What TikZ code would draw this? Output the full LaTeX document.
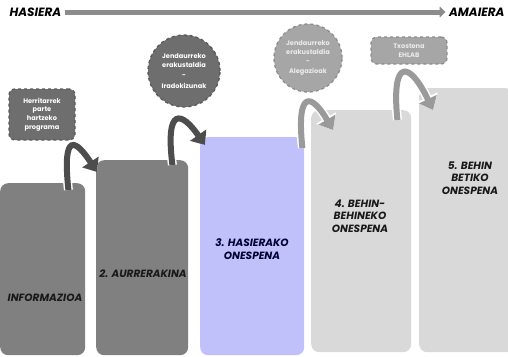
\documentclass[tikz,border=0pt]{standalone}
\usepackage{fontspec}
\setmainfont{Poppins}
\usepackage{xcolor}
\usetikzlibrary{arrows.meta,calc,positioning,backgrounds}

\definecolor{stagedark}{HTML}{808080}
\definecolor{stageblue}{HTML}{C0C0FA}
\definecolor{stagelight}{HTML}{D9D9D9}
\definecolor{notedark}{HTML}{6E6E6E}
\definecolor{notelight}{HTML}{A6A6A6}
\definecolor{curldark}{HTML}{4D4D4D}
\definecolor{curllight}{HTML}{9A9A9A}

\begin{document}
\begin{tikzpicture}[%
    x=1pt, y=-1pt,              % one unit is one pixel of the sketch
    font=\bfseries\itshape,
    ]
% -------------------------------------------------
% Styles for stages, notes and the bent arrows
\tikzset{
stage/.style={draw=none, rounded corners=8pt, anchor=north west, inner sep=0pt},
stagetext/.style={align=center, font=\fontsize{10.5}{12.5}\selectfont\bfseries\itshape, text=black!90},
note/.style={dashed, line width=1.3pt, align=center, inner sep=1pt,
    font=\fontsize{6.6}{8.8}\selectfont\bfseries, text=white},
notebox/.style={note, rounded corners=6pt},
notecircle/.style={note, circle},
curl/.style={line width=6pt, -{Triangle[length=12pt,width=19pt]},
    preaction={draw=white, line width=9pt, -{Triangle[length=14pt,width=23pt]}}},
timeline/.style={line width=5pt, draw=black!45, -{Triangle[length=6pt,width=11pt]}},
ends/.style={font=\fontsize{12}{13}\selectfont\bfseries\itshape},
}
\useasboundingbox (0,0) rectangle (508,356);

% -------------------------------------------------
% Time line on top
\node [ends, anchor=west] (hasiera) at (6,12) {HASIERA};
\node [ends, anchor=east] (amaiera) at (508,12) {AMAIERA};
\draw [timeline] (hasiera) -- (amaiera);

% -------------------------------------------------
% The five stages
\node [stage, fill=stagedark, minimum width=85pt, minimum height=172pt] (informazioa) at (0,183) {};
\node [stage, fill=stagedark, minimum width=92pt, minimum height=195pt] (aurrerakina) at (96,160) {};
\node [stage, fill=stageblue, minimum width=104pt, minimum height=218pt] (hasierako) at (200,137) {};
\node [stage, fill=stagelight, minimum width=100pt, minimum height=242pt] (behinbehineko) at (311,110) {};
\node [stage, fill=stagelight, minimum width=95pt, minimum height=264pt] (behinbetiko) at (419,88) {};

\node [stagetext] (t1) at (45,298) {INFORMAZIOA};
\node [stagetext] (t2) at (143,274) {2. AURRERAKINA};
\node [stagetext, text=blue!20!black] (t3) at (252,249) {3. HASIERAKO\\ONESPENA};
\node [stagetext] (t4) at (360,216) {4. BEHIN-\\BEHINEKO\\ONESPENA};
\node [stagetext] (t5) at (470,178) {5. BEHIN\\BETIKO\\ONESPENA};

% -------------------------------------------------
% Notes above the stages
\node [notebox, fill=notedark, draw=black!65, minimum width=66pt, minimum height=51pt] (programa) at (42,114.5)
    {Herritarrek\\parte\\hartzeko\\programa};
\node [notecircle, fill=notedark, draw=black!65, minimum size=72pt] (iradokizunak) at (184,71)
    {Jendaurreko\\erakustaldia\\[2pt]-\\[2pt]Iradokizunak};
\node [notecircle, fill=notelight, draw=black!45, minimum size=68pt, text=white!92!black] (alegazioak) at (308,58)
    {Jendaurreko\\erakustaldia\\[1pt]-\\[1pt]Alegazioak};
\node [notebox, fill=notelight, draw=black!45, minimum width=76pt, minimum height=27pt, text=white!92!black] (txostena) at (409,50.5)
    {Txostena\\EHLAB};

% -------------------------------------------------
% Bent arrows from one stage to the next
\draw [curl, draw=curldark] ($(informazioa.north east)+(-17,7)$)
    .. controls (62,130) and (76,140) .. ($(aurrerakina.north west)+(1,12)$);
\draw [curl, draw=curldark] ($(aurrerakina.north east)+(-16,5)$)
    .. controls (165,105) and (182,112) .. ($(hasierako.north west)+(5,8)$);
\draw [curl, draw=curllight] ($(hasierako.north east)+(-2,11)$)
    .. controls (296,88) and (312,94) .. ($(behinbehineko.north west)+(22,20)$);
\draw [curl, draw=curllight] ($(behinbehineko.north east)+(-14,10)$)
    .. controls (391,56) and (410,62) .. ($(behinbetiko.north west)+(14,22)$);

\end{tikzpicture}
\end{document}
